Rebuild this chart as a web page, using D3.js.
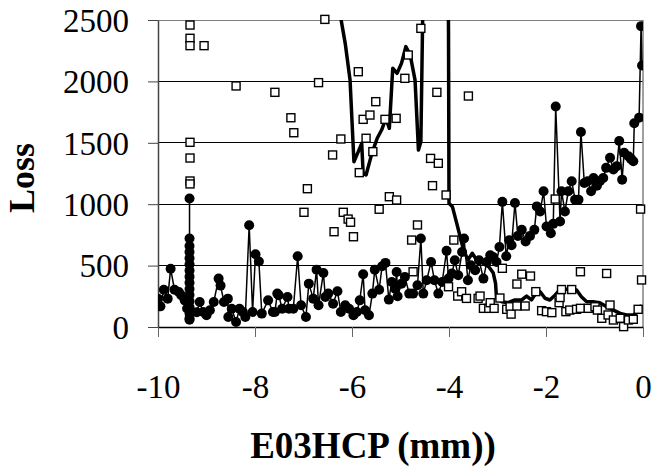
<!DOCTYPE html>
<html><head><meta charset="utf-8">
<script src="https://cdn.jsdelivr.net/npm/d3@7"></script>
<style>body{margin:0;background:#fff}svg{display:block}</style>
</head><body>
<svg id="chart" width="652" height="474"></svg>
<script>
// Filled circles (connected by thin line)
const circleX = [-10.0,-9.95,-9.88,-9.8,-9.74,-9.66,-9.57,-9.52,-9.45,-9.4,
 -9.35,-9.35,-9.35,-9.35,-9.35,-9.35,-9.35,-9.35,-9.35,-9.35,-9.35,-9.35,-9.35,-9.35,-9.35,-9.35,
 -9.2,-9.14,-9.07,-9.0,-8.93,-8.85,-8.75,-8.71,-8.64,-8.56,-8.55,-8.48,-8.39,-8.32,-8.25,-8.2,-8.12,-8.05,-7.99,-7.92,-7.86,-7.73,-7.63,-7.59,
 -7.54,-7.51,-7.44,-7.33,-7.30,-7.21,-7.12,-7.05,-6.95,-6.89,-6.8,-6.73,-6.69,-6.59,-6.55,-6.49,-6.39,-6.30,-6.23,-6.14,-6.06,-5.97,-5.90,-5.84,
 -5.77,-5.73,-5.65,-5.58,-5.53,-5.44,-5.38,-5.31,-5.24,-5.18,-5.11,-5.08,-5.06,-4.98,-4.91,-4.82,-4.74,-4.65,-4.58,-4.53,-4.46,-4.37,-4.30,-4.22,
 -4.14,-4.05,-4.01,-3.94,-3.88,-3.81,-3.73,-3.69,-3.61,-3.55,-3.46,-3.38,-3.29,-3.22,-3.15,-3.09,-3.02,-2.96,-2.90,-2.82,-2.76,-2.71,-2.64,
 -2.58,-2.50,-2.42,-2.33,-2.24,-2.19,-2.12,-2.05,-1.99,-1.90,-1.85,-1.80,-1.71,-1.68,-1.61,-1.54,-1.47,-1.40,-1.33,-1.28,-1.21,-1.14,-1.07,
 -1.02,-0.95,-0.89,-0.82,-0.76,-0.68,-0.61,-0.54,-0.49,-0.43,-0.39,-0.30,-0.25,-0.20,-0.18,-0.08,-0.04,-0.02];
const circleY = [231,168,304,231,475,304,285,258,217,150,
 60,1046,720,660,610,560,510,460,410,360,310,260,210,160,110,70,
 120,204,122,95,136,204,394,337,204,231,82,149,41,149,122,82,829,122,592,533,109,217,122,122,
 272,258,149,245,149,149,576,177,82,353,231,467,177,440,245,272,190,291,122,177,149,95,122,217,
 429,136,95,272,467,304,494,522,223,367,312,448,250,353,408,272,272,340,720,272,380,530,380,272,
 367,620,394,435,543,421,611,720,380,503,462,543,394,530,584,570,530,652,1019,576,706,666,1010,
 742,791,696,742,791,982,941,1105,818,764,840,1795,859,1105,941,1105,1187,1037,1037,1588,1173,1187,1105,
 1214,1151,1187,1214,1296,1378,1282,1310,1514,1200,1419,1391,1369,1350,1659,1705,2450,2130];

// Open squares (markers only)
const squareX = [-9.34,-9.34,-9.34,-9.34,-9.34,-9.34,-9.34,-9.05,-8.39,-7.59,-7.26,-7.20,-6.99,-6.92,-6.69,-6.56,
 -6.40,-6.37,-6.23,-6.18,-6.08,-6.03,-5.97,-5.87,-5.85,-5.77,-5.71,-5.63,-5.57,-5.51,-5.44,-5.32,-5.23,-5.09,-5.08,
 -4.91,-4.84,-4.77,-4.74,-4.65,-4.58,-4.38,-4.34,-4.25,-4.22,-4.06,-4.01,-3.90,-3.82,-3.74,-3.64,-3.60,-3.40,-3.36,
 -3.29,-3.18,-3.15,-3.07,-2.95,-2.90,-2.81,-2.74,-2.72,-2.60,-2.60,-2.50,-2.43,-2.32,-2.21,-2.09,-1.99,-1.88,-1.81,
 -1.73,-1.71,-1.68,-1.59,-1.51,-1.47,-1.37,-1.29,-1.29,-1.13,-0.99,-0.94,-0.85,-0.75,-0.72,-0.68,-0.61,-0.47,-0.40,
 -0.30,-0.20,-0.10,-0.05,-0.03];
const squareY = [2459,2351,2291,1504,1376,1189,1165,2291,1963,1911,1704,1582,934,1126,1990,2505,
 1401,776,1531,934,879,853,735,2079,1257,1691,1537,1726,1428,1835,959,1691,1061,1699,1034,
 2025,2215,708,450,831,2432,1373,1151,1911,1333,1075,328,708,252,287,233,1881,233,252,
 152,152,198,152,236,478,144,165,105,350,171,430,171,415,288,133,125,117,1042,
 198,240,305,125,138,305,144,152,450,152,165,138,71,436,98,179,57,71,3,
 57,63,144,960,383];

// Thick trend line
const trendX = [-6.30,-6.23,-6.14,-6.04,-5.96,-5.87,-5.80,-5.77,-5.71,-5.59,-5.48,-5.39,-5.30,-5.23,-5.16,-5.07,-4.98,-4.89,-4.80,-4.70,
 -4.63,-4.58,-4.54,-4.52,-4.03,-4.01,-4.00,-3.93,-3.84,-3.77,-3.70,-3.61,-3.52,-3.43,-3.31,-3.18,-3.09,-3.04,-3.02,-2.91,-2.78,-2.64,
 -2.50,-2.40,-2.30,-2.21,-2.12,-2.02,-1.92,-1.81,-1.75,-1.68,-1.57,-1.47,-1.37,-1.27,-1.16,-1.03,-0.89,-0.75,-0.61,-0.47,-0.34,-0.20,-0.10,-0.03];
const trendY = [2900,2514,2310,2011,1346,1428,1496,1252,1238,1414,1537,1604,1699,1618,2107,2066,2147,2283,2215,2011,
 1441,1509,2600,3500,3500,2400,1007,980,844,735,627,546,600,546,524,491,442,356,234,206,198,220,
 220,252,220,274,287,234,220,261,288,301,307,307,301,247,206,206,198,165,138,111,98,98,125,179];

const xTicks = [-10,-8,-6,-4,-2,0];
const yTicks = [0,500,1000,1500,2000,2500];
const xTitle = "E03HCP (mm))";
const yTitle = "Loss";

const svg = d3.select("#chart");
const L = 158, R = 643, T = 20, B = 327;
const x = d3.scaleLinear().domain([-10,0]).range([L,R]);
const y = d3.scaleLinear().domain([0,2500]).range([B,T]);
const font = "'Liberation Serif','Times New Roman',serif";
const fmt = d => String(d);

svg.append("defs").append("clipPath").attr("id","clip")
  .append("rect").attr("x",L).attr("y",T).attr("width",R-L).attr("height",B-T);

// gridlines
svg.append("g").selectAll("line").data(yTicks.filter(d=>d>0)).join("line")
  .attr("x1",L).attr("x2",R).attr("y1",d=>y(d)).attr("y2",d=>y(d))
  .attr("stroke",d=>d===2500?"#808080":"#000").attr("stroke-width",1).attr("shape-rendering","crispEdges");
// right border
svg.append("line").attr("x1",R).attr("x2",R).attr("y1",T).attr("y2",B)
  .attr("stroke","#808080").attr("stroke-width",1.5);

// axes
const yAxis = svg.append("g").attr("transform",`translate(${L},0)`)
  .call(d3.axisLeft(y).tickValues(yTicks).tickSize(10).tickPadding(19).tickSizeOuter(0).tickFormat(fmt));
yAxis.selectAll("text").attr("font-family",font).attr("font-size",33).attr("fill","#000").attr("dy","0.34em");
yAxis.selectAll("line").attr("stroke","#444");
yAxis.select(".domain").attr("stroke","#444").attr("stroke-width",1.5);

const xAxis = svg.append("g").attr("transform",`translate(0,${B})`)
  .call(d3.axisBottom(x).tickValues(xTicks).tickSize(10).tickSizeOuter(0).tickFormat(fmt));
xAxis.selectAll("text").attr("font-family",font).attr("font-size",33).attr("fill","#000").attr("y",71).attr("dy",0);
xAxis.selectAll("line").attr("stroke","#666");
xAxis.select(".domain").attr("stroke","#000").attr("stroke-width",1.5);

const plot = svg.append("g").attr("clip-path","url(#clip)");

// circles series
const cData = circleX.map((v,i)=>[v,circleY[i]]);
plot.append("path").datum(cData)
  .attr("d",d3.line().x(d=>x(d[0])).y(d=>y(d[1])))
  .attr("fill","none").attr("stroke","#000").attr("stroke-width",1.5);
plot.append("g").selectAll("circle").data(cData).join("circle")
  .attr("cx",d=>x(d[0])).attr("cy",d=>y(d[1])).attr("r",5).attr("fill","#000");

// squares
const sData = squareX.map((v,i)=>[v,squareY[i]]);
svg.append("g").selectAll("rect").data(sData).join("rect")
  .attr("x",d=>x(d[0])-4).attr("y",d=>y(d[1])-4).attr("width",8).attr("height",8)
  .attr("fill","#fff").attr("stroke","#000").attr("stroke-width",1.4);

// trend line
const tData = trendX.map((v,i)=>[v,trendY[i]]);
plot.append("path").datum(tData)
  .attr("d",d3.line().x(d=>x(d[0])).y(d=>y(d[1])))
  .attr("fill","none").attr("stroke","#000").attr("stroke-width",3.5).attr("stroke-linejoin","round");

// titles
svg.append("text").attr("x",373).attr("y",458).attr("text-anchor","middle")
  .attr("font-family",font).attr("font-weight","bold").attr("font-size",37).text(xTitle);
svg.append("text").attr("transform","translate(34,178) rotate(-90)").attr("text-anchor","middle")
  .attr("font-family",font).attr("font-weight","bold").attr("font-size",36).text(yTitle);
</script>
</body></html>
